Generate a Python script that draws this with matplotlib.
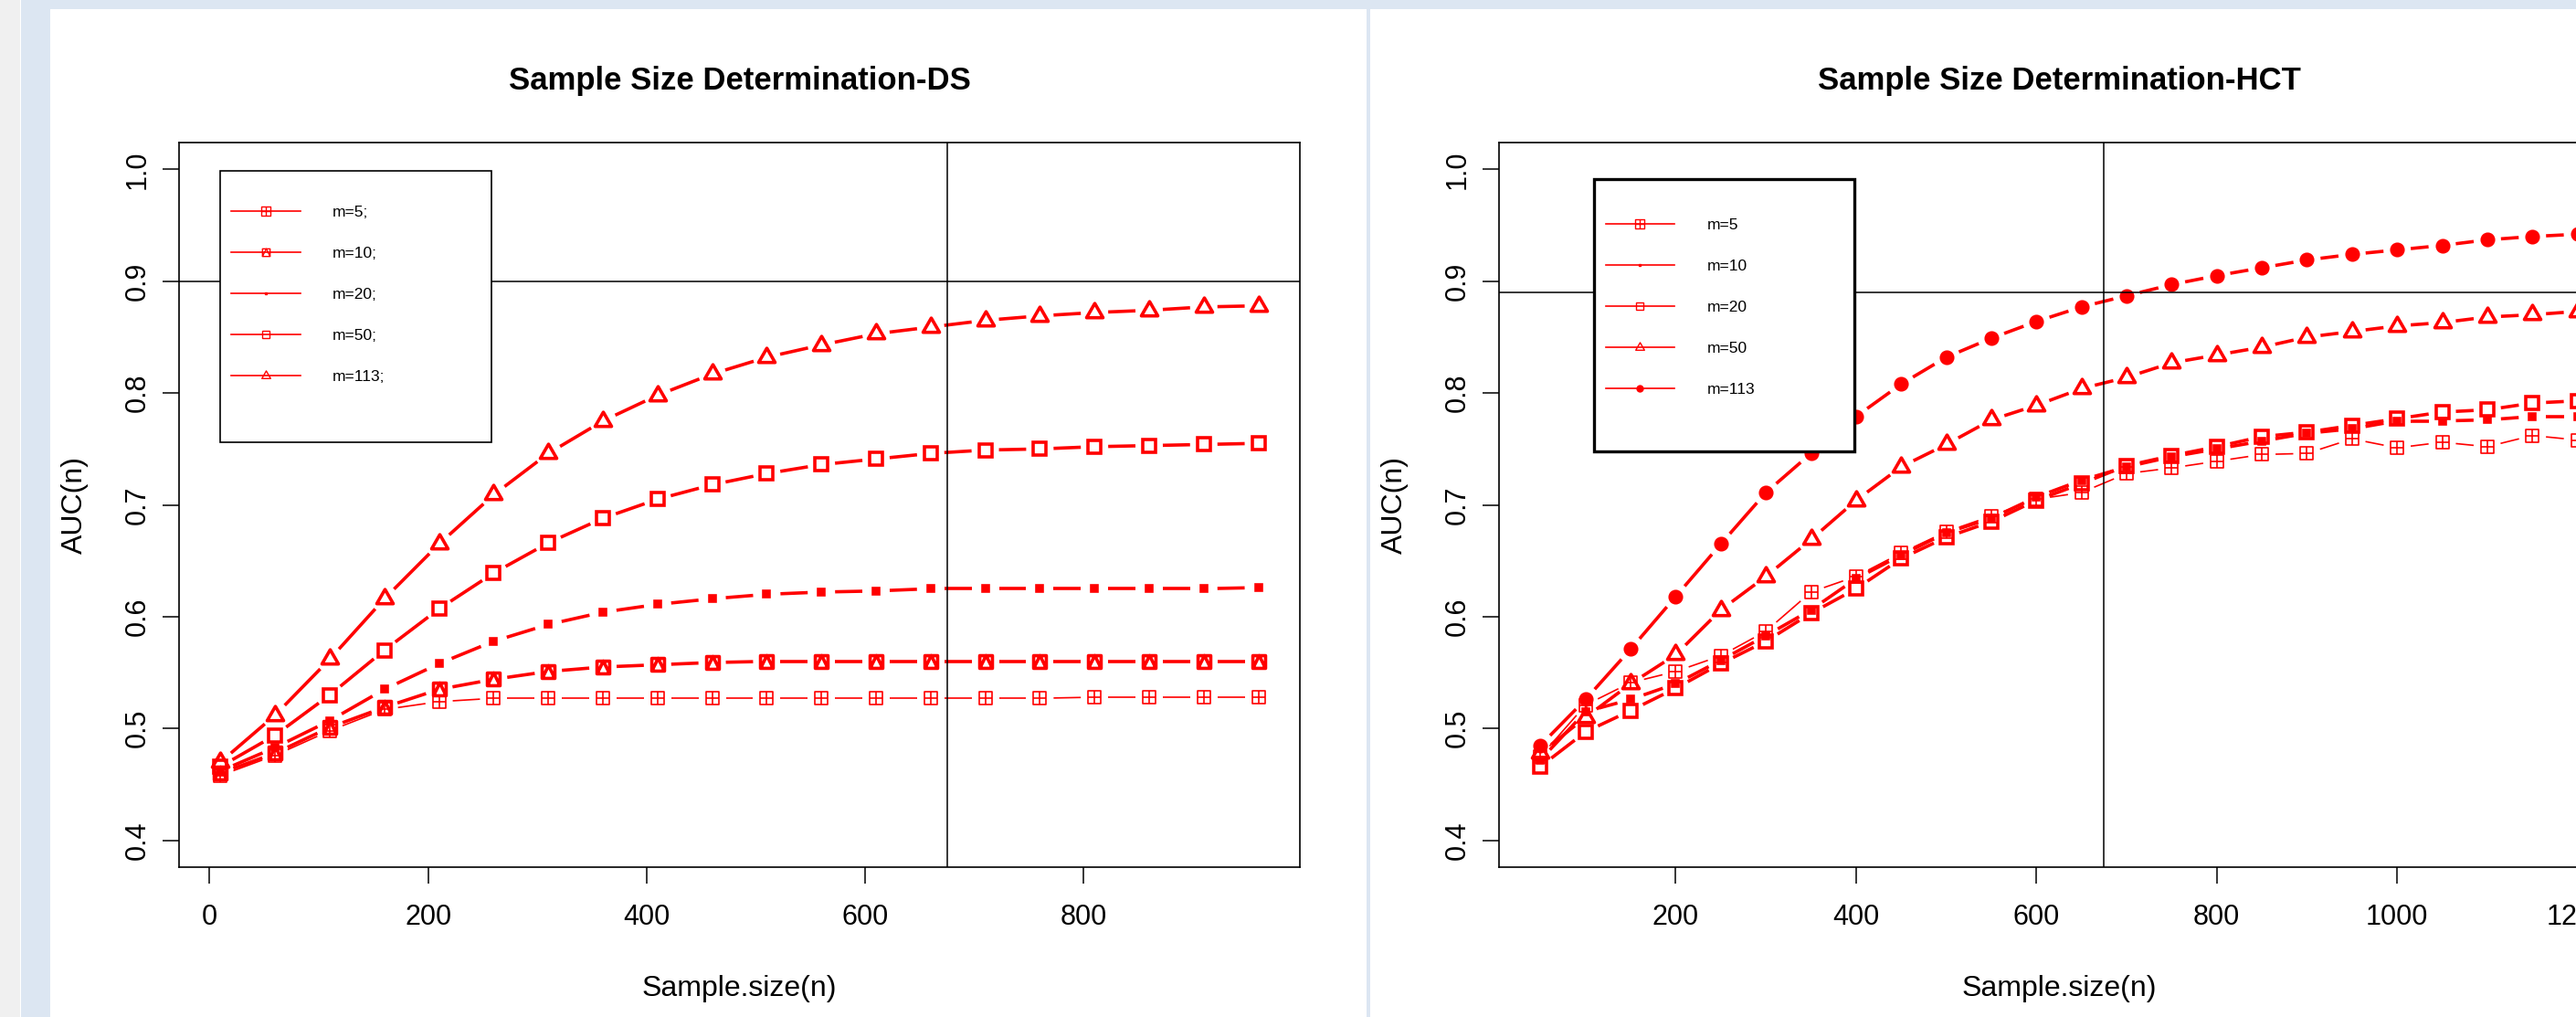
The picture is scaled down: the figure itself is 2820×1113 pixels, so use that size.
import numpy as np
import matplotlib
matplotlib.use('Agg')
import matplotlib.pyplot as plt
from matplotlib.path import Path
from matplotlib.lines import Line2D
from matplotlib.patches import Rectangle
from matplotlib.collections import LineCollection

plt.rcParams['font.family'] = ['Liberation Sans', 'DejaVu Sans']

W, H = 2820, 1113

# ---- data: DS panel ----
ds_n = [10, 60, 110, 160, 210, 260, 310, 360, 410, 460,
        510, 560, 610, 660, 710, 760, 810, 860, 910, 960]
ds_labels = ['m=5;', 'm=10;', 'm=20;', 'm=50;', 'm=113;']
ds_m5 = [0.458, 0.476, 0.498, 0.517, 0.524, 0.527, 0.527, 0.527, 0.527, 0.527,
         0.527, 0.527, 0.527, 0.527, 0.527, 0.527, 0.528, 0.528, 0.528, 0.528]
ds_m10 = [0.460, 0.478, 0.501, 0.519, 0.535, 0.544, 0.551, 0.555, 0.557, 0.559,
          0.560, 0.560, 0.560, 0.560, 0.560, 0.560, 0.560, 0.560, 0.560, 0.560]
ds_m20 = [0.462, 0.483, 0.507, 0.535, 0.558, 0.578, 0.593, 0.604, 0.611, 0.616,
          0.620, 0.622, 0.623, 0.625, 0.625, 0.625, 0.625, 0.625, 0.625, 0.626]
ds_m50 = [0.466, 0.494, 0.530, 0.570, 0.607, 0.639, 0.666, 0.688, 0.705, 0.718,
          0.728, 0.736, 0.741, 0.746, 0.749, 0.750, 0.752, 0.753, 0.754, 0.755]
ds_m113 = [0.470, 0.512, 0.562, 0.616, 0.665, 0.709, 0.746, 0.775, 0.798, 0.817,
           0.832, 0.843, 0.853, 0.859, 0.865, 0.869, 0.872, 0.874, 0.877, 0.878]

# ---- data: HCT panel ----
hct_n = [50, 100, 150, 200, 250, 300, 350, 400, 450, 500, 550, 600,
         650, 700, 750, 800, 850, 900, 950, 1000, 1050, 1100, 1150, 1200]
hct_labels = ['m=5', 'm=10', 'm=20', 'm=50', 'm=113']
hct_m5 = [0.475, 0.521, 0.541, 0.551, 0.565, 0.587, 0.622, 0.636, 0.657, 0.676, 0.690, 0.705,
          0.711, 0.728, 0.733, 0.739, 0.745, 0.746, 0.759, 0.751, 0.756, 0.752, 0.762, 0.758]
hct_m10 = [0.472, 0.515, 0.526, 0.540, 0.561, 0.583, 0.606, 0.634, 0.655, 0.675, 0.688, 0.707,
           0.722, 0.734, 0.743, 0.750, 0.757, 0.764, 0.768, 0.775, 0.775, 0.776, 0.779, 0.779]
hct_m20 = [0.466, 0.497, 0.516, 0.536, 0.558, 0.578, 0.603, 0.625, 0.652, 0.671, 0.685, 0.704,
           0.719, 0.735, 0.744, 0.752, 0.761, 0.765, 0.771, 0.777, 0.783, 0.785, 0.791, 0.793]
hct_m50 = [0.478, 0.510, 0.540, 0.566, 0.606, 0.636, 0.669, 0.704, 0.734, 0.754, 0.776, 0.789,
           0.804, 0.814, 0.827, 0.834, 0.841, 0.850, 0.855, 0.860, 0.863, 0.868, 0.870, 0.873]
hct_m113 = [0.485, 0.526, 0.571, 0.618, 0.665, 0.711, 0.746, 0.779, 0.808, 0.832, 0.849, 0.864,
            0.877, 0.887, 0.897, 0.905, 0.912, 0.919, 0.924, 0.928, 0.932, 0.937, 0.940, 0.942]

# R-like point shapes
M, L, C = Path.MOVETO, Path.LINETO, Path.CLOSEPOLY
box_plus = Path([(-1, -1), (1, -1), (1, 1), (-1, 1), (-1, -1), (0, -1), (0, 1), (-1, 0), (1, 0)],
                [M, L, L, L, C, M, L, M, L])
box_tri = Path([(-1, -1), (1, -1), (1, 1), (-1, 1), (-1, -1), (-1, -1), (0, 1), (1, -1)],
               [M, L, L, L, C, M, L, L])
tri = Path([(-1, -0.577), (1, -0.577), (0, 1.155), (-1, -0.577)], [M, L, L, C])

RED = '#ff0000'


def fx(x):
    return x / W


def fy(y):
    return 1 - y / H


def series(ax, x, y, marker, ms, filled, lw):
    # type="b": line pieces stop short of each point
    gap = 15
    pts = ax.transData.transform(np.column_stack([x, y]))
    inv = ax.transData.inverted()
    segs = []
    for p, q in zip(pts[:-1], pts[1:]):
        d = q - p
        ln = np.hypot(*d)
        if ln > 2 * gap + 2:
            u = d / ln
            segs.append(inv.transform(np.array([p + u * gap, q - u * gap])))
    ax.add_collection(LineCollection(segs, colors=RED, linewidths=lw, capstyle='butt'))
    ax.plot(x, y, ls='none', marker=marker, ms=ms, mec=RED,
            mfc=RED if filled else 'none', mew=lw)


def panel(ax, x, ys, styles, title, xlim, xticks, hline, box, frame_lw, leg_anchor, labels):
    ax.set_xlim(*xlim)
    ax.set_ylim(0.376, 1.024)
    for y, (mk, ms, filled, lw, _, _) in zip(ys, styles):
        series(ax, x, y, mk, ms, filled, lw)
    ax.axhline(hline, color='black', lw=1.1, zorder=3)
    ax.axvline(675, color='black', lw=1.1, zorder=3)

    ax.set_title(title, fontsize=25, fontweight='bold', pad=42)
    ax.set_xlabel('Sample.size(n)', fontsize=23, va='center')
    ax.set_ylabel('AUC(n)', fontsize=23, va='center')
    ax.xaxis.set_label_coords(0.5, -(1082 - 949) / 793)
    ax.yaxis.set_label_coords(-(196 - 82) / 1227, 0.5)

    ax.set_xticks(xticks)
    ax.set_yticks([0.4, 0.5, 0.6, 0.7, 0.8, 0.9, 1.0])
    ax.set_yticklabels(['0.4', '0.5', '0.6', '0.7', '0.8', '0.9', '1.0'])
    ax.tick_params(length=13, width=1.1, labelsize=22, direction='out')
    ax.tick_params(axis='x', pad=16)
    ax.tick_params(axis='y', pad=9, labelrotation=90)
    for t in ax.get_yticklabels():
        t.set_va('center')
    for s in ax.spines.values():
        s.set_linewidth(1.2)

    x0, y0, x1, y1 = box
    ax.add_patch(Rectangle((fx(x0), fy(y1)), fx(x1 - x0), (y1 - y0) / H,
                           transform=ax.figure.transFigure, facecolor='white',
                           edgecolor='black', lw=frame_lw, zorder=9, clip_on=False))
    handles = [Line2D([], [], color=RED, lw=1.2, marker=mk, ms=lms, mew=1.0,
                      mfc=RED if filled else 'none', mec=RED)
               for (mk, _, filled, _, lms, _) in styles]
    leg = ax.legend(handles, labels, loc='upper left',
                    bbox_to_anchor=(fx(leg_anchor[0]), fy(leg_anchor[1])),
                    bbox_transform=ax.figure.transFigure, frameon=False,
                    borderpad=0, borderaxespad=0, handlelength=4.35,
                    handletextpad=2.05, labelspacing=1.72, fontsize=12.5, numpoints=1)
    leg.set_zorder(10)


fig = plt.figure(figsize=(W / 100, H / 100), dpi=100)
fig.patch.set_facecolor('white')

# screenshot frame
BLUE = '#dce6f2'
fig.add_artist(Rectangle((0, 0), fx(22), 1, transform=fig.transFigure, color='#f0f0f0', lw=0))
fig.add_artist(Rectangle((fx(23), 0), fx(32), 1, transform=fig.transFigure, color=BLUE, lw=0))
fig.add_artist(Rectangle((fx(23), fy(10)), 1, 10 / H, transform=fig.transFigure, color=BLUE, lw=0))
fig.add_artist(Rectangle((fx(1496), 0), fx(4), 1, transform=fig.transFigure, color=BLUE, lw=0))

ax1 = fig.add_axes([fx(196), fy(949), fx(1227), 793 / H])
ax2 = fig.add_axes([fx(1641), fy(949), fx(1226), 793 / H])

# (marker, size, filled, lw, legend size, _)
ds_styles = [(box_plus, 10, False, 1.2, 6.5, 0),
             (box_tri, 10, False, 2.6, 6, 0),
             ('s', 5, True, 2.6, 2, 0),
             ('s', 10, False, 2.6, 6, 0),
             (tri, 15, False, 2.6, 8, 0)]
hct_styles = [(box_plus, 10, False, 1.2, 6.5, 0),
              ('s', 5, True, 2.6, 2, 0),
              ('s', 10, False, 2.6, 6, 0),
              (tri, 15, False, 2.6, 8, 0),
              ('o', 9, True, 2.6, 5, 0)]

panel(ax1, ds_n, [ds_m5, ds_m10, ds_m20, ds_m50, ds_m113], ds_styles,
      'Sample Size Determination-DS', (-28, 998), [0, 200, 400, 600, 800], 0.9,
      (241, 186.6, 538.4, 483.6), 1.2, (253, 225), ds_labels)
panel(ax2, hct_n, [hct_m5, hct_m10, hct_m20, hct_m50, hct_m113], hct_styles,
      'Sample Size Determination-HCT', (4, 1246), [200, 400, 600, 800, 1000, 1200], 0.89,
      (1744.5, 195.8, 2030.4, 494.3), 2.4, (1757.5, 238.5), hct_labels)

fig.savefig('out.png', dpi=100)
